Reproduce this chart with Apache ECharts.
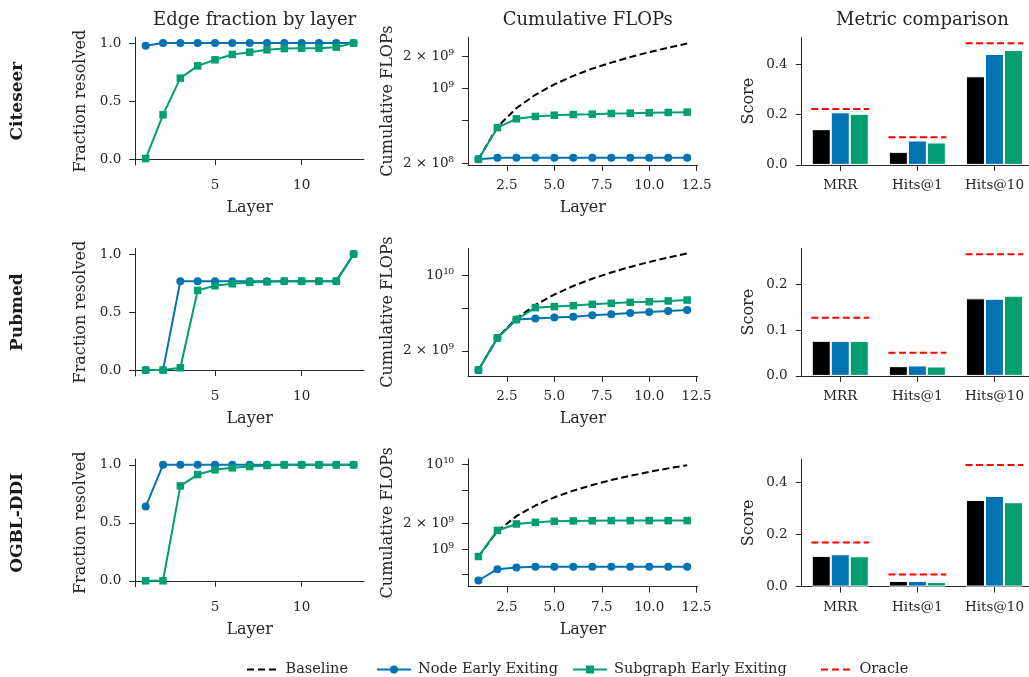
<!DOCTYPE html>
<html>
<head>
<meta charset="utf-8">
<title>Early exiting overview</title>
<script src="https://cdn.jsdelivr.net/npm/echarts@6.0.0/dist/echarts.min.js"></script>
<style>
  html, body { margin: 0; padding: 0; background: #fff; }
  #chart { width: 1029px; height: 677px; }
</style>
</head>
<body>
<div id="chart"></div>
<script>
// ---- data ----
const layers13 = [1, 2, 3, 4, 5, 6, 7, 8, 9, 10, 11, 12, 13];
const layers12 = [1, 2, 3, 4, 5, 6, 7, 8, 9, 10, 11, 12];
const datasets = ['Citeseer', 'Pubmed', 'OGBL-DDI'];
const metrics = ['MRR', 'Hits@1', 'Hits@10'];
const legendNames = ['Baseline', 'Node Early Exiting', 'Subgraph Early Exiting', 'Oracle'];

// Citeseer
const citeseerFracNode = [0.977, 1, 1, 1, 1, 1, 1, 1, 1, 1, 1, 1, 1];
const citeseerFracSub = [0.005, 0.382, 0.698, 0.804, 0.856, 0.902, 0.922, 0.942, 0.953, 0.956, 0.956, 0.965, 1.0];
const citeseerFlopsBase = [2.18e8, 4.36e8, 6.54e8, 8.72e8, 1.09e9, 1.31e9, 1.53e9, 1.74e9, 1.96e9, 2.18e9, 2.40e9, 2.62e9];
const citeseerFlopsNode = [2.18e8, 2.25e8, 2.25e8, 2.25e8, 2.25e8, 2.25e8, 2.25e8, 2.25e8, 2.25e8, 2.25e8, 2.25e8, 2.25e8];
const citeseerFlopsSub = [2.18e8, 4.3e8, 5.2e8, 5.47e8, 5.62e8, 5.7e8, 5.75e8, 5.83e8, 5.87e8, 5.92e8, 5.96e8, 6.0e8];
const citeseerScoreBase = [0.142, 0.052, 0.352];
const citeseerScoreNode = [0.209, 0.097, 0.441];
const citeseerScoreSub = [0.203, 0.089, 0.457];
const citeseerScoreOracle = [0.2225, 0.110, 0.4835];

// Pubmed
const pubmedFracNode = [0, 0, 0.767, 0.767, 0.767, 0.767, 0.767, 0.767, 0.767, 0.767, 0.767, 0.767, 1.0];
const pubmedFracSub = [0, 0, 0.02, 0.687, 0.727, 0.744, 0.756, 0.761, 0.767, 0.767, 0.767, 0.767, 1.0];
const pubmedFlopsBase = [1.33e9, 2.66e9, 3.99e9, 5.32e9, 6.65e9, 7.98e9, 9.31e9, 1.064e10, 1.197e10, 1.33e10, 1.463e10, 1.596e10];
const pubmedFlopsNode = [1.33e9, 2.64e9, 3.9e9, 3.98e9, 4.07e9, 4.15e9, 4.27e9, 4.36e9, 4.49e9, 4.58e9, 4.68e9, 4.79e9];
const pubmedFlopsSub = [1.33e9, 2.64e9, 3.9e9, 5.03e9, 5.14e9, 5.25e9, 5.4e9, 5.51e9, 5.63e9, 5.71e9, 5.8e9, 5.91e9];
const pubmedScoreBase = [0.0764, 0.0212, 0.169];
const pubmedScoreNode = [0.0764, 0.0227, 0.168];
const pubmedScoreSub = [0.0764, 0.0205, 0.1747];
const pubmedScoreOracle = [0.1266, 0.0502, 0.265];

// OGBL-DDI
const ddiFracNode = [0.64, 1, 1, 1, 1, 1, 1, 1, 1, 1, 1, 1, 1];
const ddiFracSub = [0, 0, 0.818, 0.916, 0.957, 0.974, 0.985, 0.994, 1, 1, 1, 1, 1];
const ddiFlopsBase = [8.17e8, 1.63e9, 2.45e9, 3.27e9, 4.09e9, 4.9e9, 5.72e9, 6.54e9, 7.35e9, 8.17e9, 8.99e9, 9.8e9];
const ddiFlopsNode = [4.25e8, 5.79e8, 6.05e8, 6.17e8, 6.2e8, 6.2e8, 6.2e8, 6.2e8, 6.2e8, 6.2e8, 6.2e8, 6.2e8];
const ddiFlopsSub = [8.17e8, 1.66e9, 1.98e9, 2.07e9, 2.13e9, 2.15e9, 2.16e9, 2.17e9, 2.17e9, 2.17e9, 2.17e9, 2.17e9];
const ddiScoreBase = [0.1176, 0.0218, 0.332];
const ddiScoreNode = [0.124, 0.0218, 0.3475];
const ddiScoreSub = [0.1163, 0.018, 0.3233];
const ddiScoreOracle = [0.1686, 0.046, 0.466];

// tick values
const fracTicks = [0, 0.5, 1];
const fracLayerTicks = [5, 10];
const flopsLayerTicks = [2.5, 5, 7.5, 10, 12.5];
const flopsTicks = [[2e8, 5e8, 1e9, 2e9], [2e9, 5e9, 1e10], [5e8, 1e9, 2e9, 5e9, 1e10]];
const flopsLabels = [[2e8, 1e9, 2e9], [2e9, 1e10], [1e9, 2e9, 1e10]];
const scoreTicks = [[0, 0.2, 0.4], [0, 0.1, 0.2], [0, 0.2, 0.4]];

const rows = [
  { fracNode: citeseerFracNode, fracSub: citeseerFracSub, flopsBase: citeseerFlopsBase, flopsNode: citeseerFlopsNode, flopsSub: citeseerFlopsSub,
    scoreBase: citeseerScoreBase, scoreNode: citeseerScoreNode, scoreSub: citeseerScoreSub, scoreOracle: citeseerScoreOracle },
  { fracNode: pubmedFracNode, fracSub: pubmedFracSub, flopsBase: pubmedFlopsBase, flopsNode: pubmedFlopsNode, flopsSub: pubmedFlopsSub,
    scoreBase: pubmedScoreBase, scoreNode: pubmedScoreNode, scoreSub: pubmedScoreSub, scoreOracle: pubmedScoreOracle },
  { fracNode: ddiFracNode, fracSub: ddiFracSub, flopsBase: ddiFlopsBase, flopsNode: ddiFlopsNode, flopsSub: ddiFlopsSub,
    scoreBase: ddiScoreBase, scoreNode: ddiScoreNode, scoreSub: ddiScoreSub, scoreOracle: ddiScoreOracle }
];

// ---- layout / style ----
const FONT = '"DejaVu Serif", serif';
const TXT = '#262626';
const BLUE = '#0173b2';
const GREEN = '#029e73';
const colLeft = [135.3, 468, 801.7];
const colWidth = [228.7, 229.6, 231.3];
const rowTop = [37.3, 248.3, 459];
const rowHeight = 127.6;
const flopsRange = [[1.93e8, 3.0e9], [1.175e9, 1.78e10], [3.6e8, 1.16e10]];
const scoreMax = [0.507, 0.278, 0.489];
const legendLeft = [247, 376, 572, 821];

const SUP = { '0': '⁰', '1': '¹', '2': '²', '3': '³', '4': '⁴', '5': '⁵', '6': '⁶', '7': '⁷', '8': '⁸', '9': '⁹' };
function sciLabel(v) {
  const e = Math.floor(Math.log10(v) + 1e-9);
  const m = Math.round(v / Math.pow(10, e));
  const pow = '10' + String(e).split('').map(c => SUP[c]).join('');
  return m === 1 ? pow : m + ' × ' + pow;
}

function baseAxis(extra) {
  return Object.assign({
    axisLine: { show: true, lineStyle: { color: TXT, width: 1 } },
    axisTick: { show: true, inside: false, length: 6, lineStyle: { color: TXT, width: 1 } },
    axisLabel: { color: TXT, fontFamily: FONT, fontSize: 13.5, margin: 14 },
    splitLine: { show: false },
    nameLocation: 'middle',
    nameTextStyle: { color: TXT, fontFamily: FONT, fontSize: 16 }
  }, extra);
}

const grids = [], xAxes = [], yAxes = [], series = [];

rows.forEach((row, r) => {
  for (let c = 0; c < 3; c++) {
    grids.push({ left: colLeft[c], top: rowTop[r], width: colWidth[c], height: rowHeight, outerBoundsMode: 'none' });
  }
  const g = r * 3;

  // col 1: edge fraction
  xAxes.push(baseAxis({
    gridIndex: g, type: 'value', min: 0.4, max: 13.6, name: 'Layer', nameGap: 35,
    axisTick: { show: true, length: 6, lineStyle: { color: TXT }, customValues: fracLayerTicks },
    axisLabel: { color: TXT, fontFamily: FONT, fontSize: 13.5, margin: 14, customValues: fracLayerTicks }
  }));
  yAxes.push(baseAxis({
    gridIndex: g, type: 'value', min: -0.05, max: 1.05, name: 'Fraction resolved', nameGap: 46,
    axisTick: { show: true, length: 6, lineStyle: { color: TXT }, customValues: fracTicks },
    axisLabel: { color: TXT, fontFamily: FONT, fontSize: 13.5, margin: 14, customValues: fracTicks, formatter: v => v.toFixed(1) }
  }));

  // col 2: cumulative FLOPs
  xAxes.push(baseAxis({
    gridIndex: g + 1, type: 'value', min: 0.45, max: 12.55, name: 'Layer', nameGap: 35,
    axisTick: { show: true, length: 6, lineStyle: { color: TXT }, customValues: flopsLayerTicks },
    axisLabel: { color: TXT, fontFamily: FONT, fontSize: 13.5, margin: 14, customValues: flopsLayerTicks, formatter: v => v.toFixed(1) }
  }));
  yAxes.push(baseAxis({
    gridIndex: g + 1, type: 'log', logBase: 10, min: flopsRange[r][0], max: flopsRange[r][1], name: 'Cumulative FLOPs', nameGap: 72,
    axisTick: { show: true, length: 6, lineStyle: { color: TXT }, customValues: flopsTicks[r] },
    axisLabel: { color: TXT, fontFamily: FONT, fontSize: 13.5, margin: 14, customValues: flopsLabels[r], formatter: v => sciLabel(v) }
  }));

  // col 3: metric comparison
  xAxes.push(baseAxis({
    gridIndex: g + 2, type: 'category', data: metrics,
    axisTick: { show: true, alignWithLabel: true, length: 6, lineStyle: { color: TXT } }
  }));
  yAxes.push(baseAxis({
    gridIndex: g + 2, type: 'value', min: 0, max: scoreMax[r], name: 'Score', nameGap: 45,
    axisTick: { show: true, length: 6, lineStyle: { color: TXT }, customValues: scoreTicks[r] },
    axisLabel: { color: TXT, fontFamily: FONT, fontSize: 13.5, margin: 14, customValues: scoreTicks[r], formatter: v => v.toFixed(1) }
  }));

  const lineOpts = (name, color, symbol, axis, xs, ys) => ({
    name, type: 'line', xAxisIndex: axis, yAxisIndex: axis,
    data: xs.map((x, i) => [x, ys[i]]),
    symbol, symbolSize: symbol === 'rect' ? 7.5 : 8, showSymbol: true,
    lineStyle: { color, width: 2 }, itemStyle: { color },
    z: 3
  });

  series.push(lineOpts('Node Early Exiting', BLUE, 'circle', g, layers13, row.fracNode));
  series.push(lineOpts('Subgraph Early Exiting', GREEN, 'rect', g, layers13, row.fracSub));

  series.push({
    name: 'Baseline', type: 'line', xAxisIndex: g + 1, yAxisIndex: g + 1,
    data: layers12.map((x, i) => [x, row.flopsBase[i]]),
    symbol: 'none', lineStyle: { color: '#000', width: 2, type: [7, 3.5] }, itemStyle: { color: '#000' }, z: 2
  });
  series.push(lineOpts('Node Early Exiting', BLUE, 'circle', g + 1, layers12, row.flopsNode));
  series.push(lineOpts('Subgraph Early Exiting', GREEN, 'rect', g + 1, layers12, row.flopsSub));

  const barOpts = (name, color, vals) => ({
    name, type: 'bar', xAxisIndex: g + 2, yAxisIndex: g + 2, data: vals,
    barWidth: 19, barGap: '0%',
    itemStyle: { color, borderColor: '#fff', borderWidth: 1 }
  });
  series.push(barOpts('Baseline', '#000', row.scoreBase));
  series.push(barOpts('Node Early Exiting', BLUE, row.scoreNode));
  series.push(barOpts('Subgraph Early Exiting', GREEN, row.scoreSub));
  series.push({
    name: 'Oracle', type: 'custom', xAxisIndex: g + 2, yAxisIndex: g + 2,
    data: row.scoreOracle.map((v, i) => [i, v]),
    encode: { x: 0, y: 1 },
    itemStyle: { color: '#ff0000' },
    z: 4,
    renderItem: (params, api) => {
      const p = api.coord([api.value(0), api.value(1)]);
      const half = api.size([1, 0])[0] * 0.375;
      return {
        type: 'line',
        shape: { x1: p[0] - half, y1: p[1], x2: p[0] + half, y2: p[1] },
        style: { stroke: '#ff0000', lineWidth: 2, lineDash: [7, 3.5] }
      };
    }
  });
});

const dashIcon = 'path://M0,4h7v2h-7zM11,4h7v2h-7zM22,4h7v2h-7zM0,0h0.01v0.01zM0,10h0.01v0.01z';
const legendItems = [
  { name: 'Baseline', icon: dashIcon, itemStyle: { color: '#000' } },
  { name: 'Node Early Exiting' },
  { name: 'Subgraph Early Exiting' },
  { name: 'Oracle', icon: dashIcon, itemStyle: { color: '#ff0000' } }
];

const option = {
  animation: false,
  backgroundColor: '#fff',
  title: [
    { text: 'Edge fraction by layer', left: colLeft[0] + colWidth[0] / 2, top: 6, textAlign: 'center',
      textStyle: { fontFamily: FONT, fontSize: 18, fontWeight: 'normal', color: TXT } },
    { text: 'Cumulative FLOPs', left: colLeft[1] + colWidth[1] / 2, top: 6, textAlign: 'center',
      textStyle: { fontFamily: FONT, fontSize: 18, fontWeight: 'normal', color: TXT } },
    { text: 'Metric comparison', left: colLeft[2] + colWidth[2] / 2, top: 6, textAlign: 'center',
      textStyle: { fontFamily: FONT, fontSize: 18, fontWeight: 'normal', color: TXT } }
  ],
  // one legend box per entry so each sits where the reference puts it
  legend: legendNames.map((n, i) => ({
    left: legendLeft[i], top: 662, itemWidth: 34, itemHeight: 10, padding: 0,
    textStyle: { fontFamily: FONT, fontSize: 14.5, color: TXT, padding: [0, 0, 0, 2] },
    data: [legendItems[i]]
  })),
  graphic: datasets.map((d, r) => ({
    type: 'text', x: 17.5, y: rowTop[r] + rowHeight / 2, rotation: Math.PI / 2,
    style: { text: d, font: 'bold 17px "DejaVu Serif"', fill: '#1a1a1a', align: 'center', verticalAlign: 'middle' }
  })),
  grid: grids,
  xAxis: xAxes,
  yAxis: yAxes,
  series: series
};

const chart = echarts.init(document.getElementById('chart'), null, { renderer: 'canvas' });
chart.setOption(option);
</script>
</body>
</html>
